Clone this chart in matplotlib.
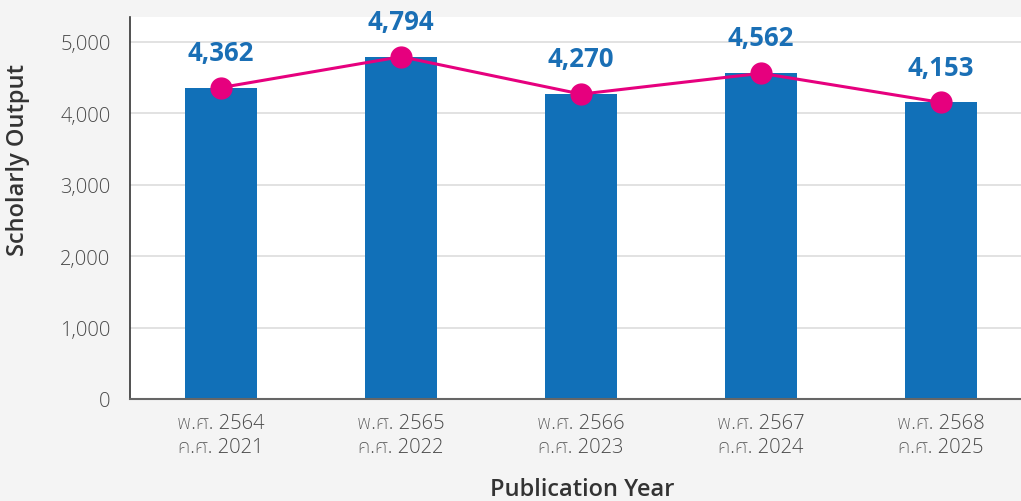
import matplotlib
matplotlib.use("Agg")
import matplotlib.pyplot as plt
from matplotlib import font_manager as fm

years_be = ["พ.ศ. 2564", "พ.ศ. 2565", "พ.ศ. 2566", "พ.ศ. 2567", "พ.ศ. 2568"]
years_ce = ["ค.ศ. 2021", "ค.ศ. 2022", "ค.ศ. 2023", "ค.ศ. 2024", "ค.ศ. 2025"]
output = [4362, 4794, 4270, 4562, 4153]
y_ticks = [0, 1000, 2000, 3000, 4000, 5000]

fonts = fm.fontManager.ttflist
available = set(f.name for f in fonts)
thai_cands = ["Noto Sans Thai", "Noto Sans Thai UI", "IBM Plex Sans Thai", "Kanit", "Prompt", "Anuphan"]
light_thai = next((n for n in thai_cands
                   if any(f.name == n and isinstance(f.weight, int) and f.weight <= 300 for f in fonts)), None)
thai = next((n for n in thai_cands if n in available), "DejaVu Sans")
base = "Open Sans" if "Open Sans" in available else "DejaVu Sans"
plt.rcParams["font.family"] = [base, thai, "DejaVu Sans"]
tick_family = [base, light_thai or thai, "DejaVu Sans"]

BAR = "#1170b8"
LINE = "#e6007e"
LBL = "#1a6fb5"
TXT = "#4a4a4a"

fig = plt.figure(figsize=(10.21, 5.02), dpi=100, facecolor="#f4f4f4")
ax = fig.add_axes([130 / 1021, 1 - 400 / 502, 891 / 1021, 382 / 502])
ax.set_facecolor("white")

x = list(range(len(output)))
ax.bar(x, output, width=0.4, color=BAR, zorder=2)
ax.plot(x, output, color=LINE, lw=2.2, marker="o", markersize=15, zorder=3)
for xi, v in zip(x, output):
    ax.annotate(f"{v:,}", (xi, v), xytext=(0, 20), textcoords="offset points",
                ha="center", va="baseline", fontsize=18.5, fontweight="bold", color=LBL)

ax.set_xlim(-0.506, 4.444)
ax.set_ylim(0, 5350)
ax.set_yticks(y_ticks)
ax.set_yticklabels([f"{t:,}" for t in y_ticks], fontweight="light", family=tick_family)
ax.set_xticks(x)
ax.set_xticklabels([f"{a}\n{b}" for a, b in zip(years_be, years_ce)], linespacing=1.25,
                   fontweight="light", family=tick_family)
ax.tick_params(axis="both", length=0, labelsize=14.5, labelcolor=TXT)
ax.tick_params(axis="y", pad=14)
ax.tick_params(axis="x", pad=10)
ax.grid(axis="y", color="#dddddd", lw=1.2, zorder=0)
ax.set_axisbelow(True)
for s in ["top", "right"]:
    ax.spines[s].set_visible(False)
ax.spines["left"].set_color("#333333")
ax.spines["left"].set_linewidth(1.2)
ax.spines["bottom"].set_color("#666666")
ax.spines["bottom"].set_linewidth(1.5)

fig.text(18 / 1021, 1 - 160 / 502, "Scholarly Output", rotation=90, ha="center", va="center",
         fontsize=17, fontweight="semibold", color="#333333")
fig.text(582 / 1021, 1 - 490 / 502, "Publication Year", ha="center", va="center",
         fontsize=17, fontweight="semibold", color="#333333")

fig.savefig("out.png", dpi=100, facecolor=fig.get_facecolor())
